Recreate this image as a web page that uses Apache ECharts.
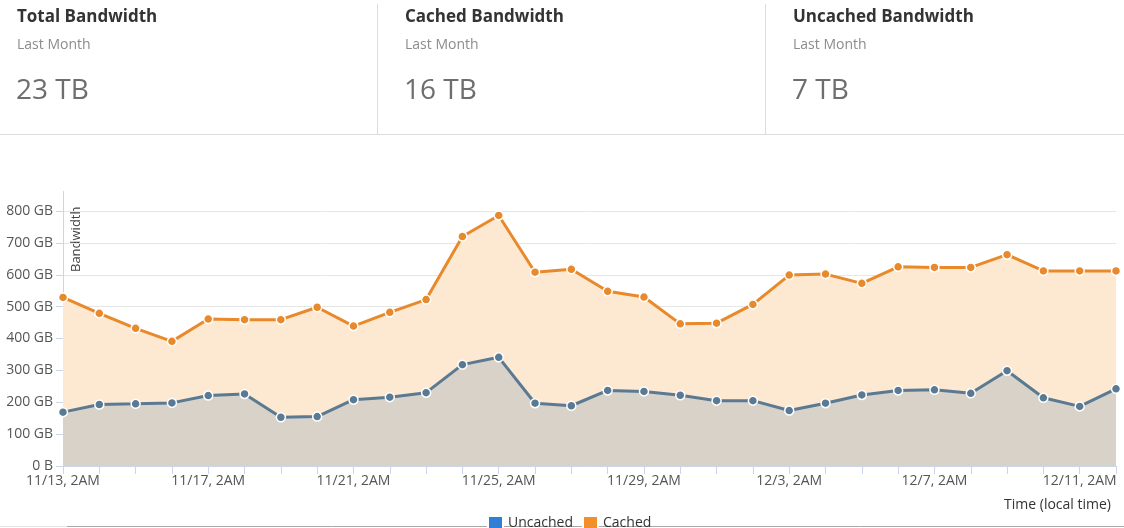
<!DOCTYPE html>
<html lang="en">

<head>
    <meta charset="UTF-8">
    <title>Bandwidth</title>
    <style>
        html, body { margin: 0; padding: 0; background: #fff; }
        body { width: 1124px; height: 528px; position: relative; overflow: hidden; font-family: "Open Sans", sans-serif; }
        #main { position: absolute; left: 0; top: 0; width: 1124px; height: 528px; }
        .stats { position: absolute; left: 0; top: 0; width: 1124px; height: 134px; border-bottom: 1px solid #dcdcdc; z-index: 2; }
        .stat { position: absolute; top: 0; height: 134px; }
        .stat.line { border-left: 1px solid #dcdcdc; top: 4px; height: 130px; }
        .stat h4 { position: absolute; left: 17px; top: 4px; margin: 0; font-size: 17px; font-weight: bold; color: #333; white-space: nowrap; }
        .stat p { position: absolute; left: 17px; top: 34px; margin: 0; font-size: 14px; color: #8c8c8c; white-space: nowrap; }
        .stat span { position: absolute; left: 16px; top: 69px; font-size: 28px; color: #6e6e6e; white-space: nowrap; }
        .stat.line h4 { left: 27px; top: 0; }
        .stat.line p { left: 27px; top: 30px; }
        .stat.line span { left: 26px; top: 65px; }
    </style>
</head>

<body>
    <div id="main"></div>
    <div class="stats" id="stats"></div>

    <script src="https://cdn.jsdelivr.net/npm/echarts@6/dist/echarts.min.js"></script>
    <script>
        // summary boxes
        var statTitles = ['Total Bandwidth', 'Cached Bandwidth', 'Uncached Bandwidth'];
        var statValues = ['23 TB', '16 TB', '7 TB'];
        var statLeft = [0, 377, 765];

        // chart data (GB per day)
        var categories = [
            '11/13, 2AM', '11/14, 2AM', '11/15, 2AM', '11/16, 2AM', '11/17, 2AM', '11/18, 2AM',
            '11/19, 2AM', '11/20, 2AM', '11/21, 2AM', '11/22, 2AM', '11/23, 2AM', '11/24, 2AM',
            '11/25, 2AM', '11/26, 2AM', '11/27, 2AM', '11/28, 2AM', '11/29, 2AM', '11/30, 2AM',
            '12/1, 2AM', '12/2, 2AM', '12/3, 2AM', '12/4, 2AM', '12/5, 2AM', '12/6, 2AM',
            '12/7, 2AM', '12/8, 2AM', '12/9, 2AM', '12/10, 2AM', '12/11, 2AM', '12/12, 2AM'
        ];
        var cached = [529, 479, 432, 391, 461, 459, 459, 498, 439, 482, 522, 720, 786, 608, 617,
            548, 530, 446, 448, 507, 599, 602, 573, 625, 623, 623, 663, 612, 612, 612];
        var uncached = [169, 193, 195, 198, 221, 226, 153, 155, 208, 216, 230, 318, 341, 197, 189,
            237, 234, 222, 205, 205, 174, 197, 223, 237, 239, 228, 299, 214, 187, 242];

        var html = '';
        for (var i = 0; i < statTitles.length; i++) {
            html += '<div class="stat' + (i > 0 ? ' line' : '') + '" style="left:' + statLeft[i] + 'px;width:376px">' +
                '<h4>' + statTitles[i] + '</h4>' +
                '<p>Last Month</p>' +
                '<span>' + statValues[i] + '</span></div>';
        }
        document.getElementById('stats').innerHTML = html;

        var chart = echarts.init(document.getElementById('main'));

        var option = {
            animation: false,
            textStyle: { fontFamily: 'Open Sans' },
            grid: { left: 63, right: 8, top: 211, bottom: 62 },
            legend: {
                left: 482,
                top: 510,
                itemWidth: 15,
                itemHeight: 15,
                itemGap: 9,
                icon: 'rect',
                textStyle: { color: '#333', fontSize: 14 },
                data: [
                    { name: 'Uncached', itemStyle: { color: '#2f7ed8' } },
                    { name: 'Cached', itemStyle: { color: '#f28f2c' } }
                ]
            },
            xAxis: {
                type: 'category',
                data: categories,
                boundaryGap: false,
                axisLine: { lineStyle: { color: '#ccd6eb' } },
                axisTick: { show: true, interval: 0, length: 8, lineStyle: { color: '#ccd6eb' } },
                axisLabel: { interval: 3, color: '#555', fontSize: 14, margin: 8 }
            },
            yAxis: {
                type: 'value',
                min: 0,
                max: 800,
                interval: 100,
                axisLine: { show: true, lineStyle: { color: '#ccd6eb' } },
                axisTick: { show: true, length: 7, lineStyle: { color: '#ccd6eb' } },
                splitLine: { lineStyle: { color: '#e6e6e6' } },
                axisLabel: {
                    color: '#555',
                    fontSize: 14,
                    margin: 10,
                    formatter: function (v) { return v === 0 ? '0 B' : v + ' GB'; }
                }
            },
            graphic: [
                { type: 'line', shape: { x1: 63.5, y1: 191, x2: 63.5, y2: 211 }, style: { stroke: '#ccd6eb', lineWidth: 1 } },
                { type: 'text', x: 76, y: 272, rotation: Math.PI / 2, style: { text: 'Bandwidth', fill: '#444', font: '13px "Open Sans"', textAlign: 'left', textVerticalAlign: 'middle' } },
                { type: 'text', x: 1111, y: 505, style: { text: 'Time (local time)', fill: '#333', font: '14px "Open Sans"', textAlign: 'right', textVerticalAlign: 'middle' } },
                { type: 'line', shape: { x1: 0, y1: 526.5, x2: 67, y2: 526.5 }, style: { stroke: '#e3e3e3', lineWidth: 1 } },
                { type: 'line', shape: { x1: 67, y1: 526.5, x2: 1124, y2: 526.5 }, style: { stroke: '#a8a8a8', lineWidth: 1 } }
            ],
            series: [{
                name: 'Cached',
                type: 'line',
                data: cached,
                symbol: 'circle',
                symbolSize: 9,
                lineStyle: { color: '#e8892b', width: 3 },
                itemStyle: { color: '#e8892b', borderColor: '#fff', borderWidth: 1.5 },
                areaStyle: { color: '#fde8d1', opacity: 1 },
                z: 2
            }, {
                name: 'Uncached',
                type: 'line',
                data: uncached,
                symbol: 'circle',
                symbolSize: 9,
                lineStyle: { color: '#5a7a94', width: 3 },
                itemStyle: { color: '#5a7a94', borderColor: '#fff', borderWidth: 1.5 },
                areaStyle: { color: '#d9d2c8', opacity: 1 },
                z: 3
            }]
        };

        chart.setOption(option);
    </script>
</body>

</html>
